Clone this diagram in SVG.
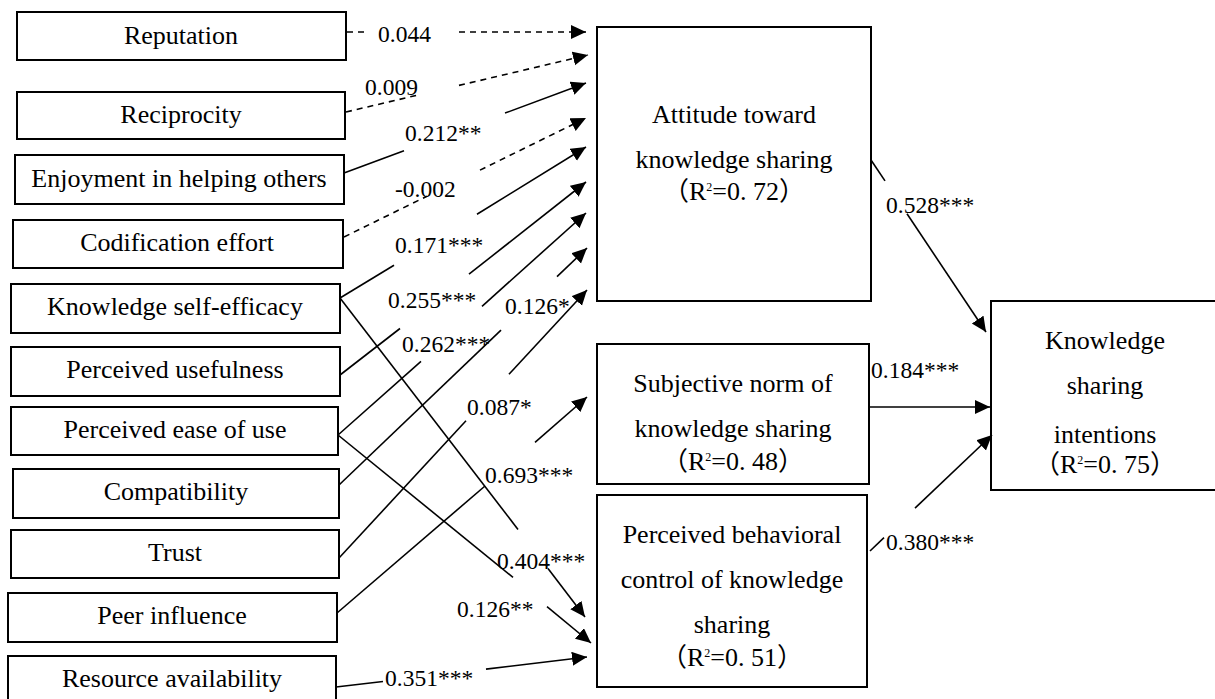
<svg xmlns="http://www.w3.org/2000/svg" width="1215" height="699" viewBox="0 0 1215 699">
<defs>
<style>
.box{fill:#fff;stroke:#000;stroke-width:2}
.t{font-family:"Liberation Serif","Noto Sans CJK SC",serif;font-size:26px;fill:#000;text-anchor:middle}
.lbl{font-family:"Liberation Serif",serif;font-size:23.5px;fill:#000}
.sup{font-size:12px}
.ln{stroke:#000;stroke-width:1.6;fill:none}
.ds{stroke:#000;stroke-width:1.6;fill:none;stroke-dasharray:6 5}
</style>
<marker id="ah" markerUnits="userSpaceOnUse" markerWidth="16" markerHeight="16" refX="15" refY="7" orient="auto">
<path d="M0,0 L15,7 L0,14 Z" fill="#000" stroke="none"/>
</marker>
</defs>
<rect width="1215" height="699" fill="#fff"/>

<g id="reputation"><rect class="box" x="17" y="12" width="329" height="48"/><text class="t" x="181" y="44">Reputation</text></g>
<g id="reciprocity"><rect class="box" x="17" y="92" width="328" height="47"/><text class="t" x="181" y="123">Reciprocity</text></g>
<g id="enjoyment"><rect class="box" x="15" y="155" width="329" height="49"/><text class="t" x="179" y="187">Enjoyment in helping others</text></g>
<g id="codification"><rect class="box" x="13" y="220" width="330" height="48"/><text class="t" x="177" y="251">Codification effort</text></g>
<g id="kse"><rect class="box" x="11" y="284" width="329" height="49"/><text class="t" x="175" y="315">Knowledge self-efficacy</text></g>
<g id="usefulness"><rect class="box" x="11" y="347" width="329" height="49"/><text class="t" x="175" y="378">Perceived usefulness</text></g>
<g id="ease"><rect class="box" x="11" y="407" width="327" height="48"/><text class="t" x="175" y="438">Perceived ease of use</text></g>
<g id="compatibility"><rect class="box" x="13" y="469" width="326" height="49"/><text class="t" x="176" y="500">Compatibility</text></g>
<g id="trust"><rect class="box" x="11" y="530" width="328" height="48"/><text class="t" x="175" y="561">Trust</text></g>
<g id="peer"><rect class="box" x="8" y="593" width="329" height="49"/><text class="t" x="172" y="624">Peer influence</text></g>
<g id="resource"><rect class="box" x="8" y="656" width="328" height="52"/><text class="t" x="172" y="687">Resource availability</text></g>

<g id="attitude"><rect class="box" x="597" y="27" width="274" height="274"/>
<text class="t" x="734" y="123">Attitude toward</text>
<text class="t" x="734" y="168">knowledge sharing</text>
<text class="t" x="734" y="200">（R<tspan class="sup" dy="-9">2</tspan><tspan dy="9">=0. 72）</tspan></text></g>

<g id="subjective"><rect class="box" x="597" y="344" width="272" height="140"/>
<text class="t" x="733" y="392">Subjective norm of</text>
<text class="t" x="733" y="437">knowledge sharing</text>
<text class="t" x="733" y="470">（R<tspan class="sup" dy="-9">2</tspan><tspan dy="9">=0. 48）</tspan></text></g>

<g id="pbc"><rect class="box" x="597" y="495" width="270" height="192"/>
<text class="t" x="732" y="543">Perceived behavioral</text>
<text class="t" x="732" y="588">control of knowledge</text>
<text class="t" x="732" y="633">sharing</text>
<text class="t" x="732" y="666">（R<tspan class="sup" dy="-9">2</tspan><tspan dy="9">=0. 51）</tspan></text></g>

<g id="intentions"><rect class="box" x="991" y="301" width="230" height="189"/>
<text class="t" x="1105" y="349">Knowledge</text>
<text class="t" x="1105" y="394">sharing</text>
<text class="t" x="1105" y="443">intentions</text>
<text class="t" x="1105" y="473">（R<tspan class="sup" dy="-9">2</tspan><tspan dy="9">=0. 75）</tspan></text></g>

<g id="connectors">
<line class="ds" x1="347" y1="32" x2="365" y2="32"/>
<line class="ds" x1="459" y1="32" x2="586" y2="32" marker-end="url(#ah)"/>
<line class="ds" x1="346" y1="112" x2="421" y2="94.3"/>
<line class="ds" x1="459" y1="85.4" x2="588" y2="55" marker-end="url(#ah)"/>
<line class="ln" x1="344" y1="173" x2="404" y2="150.7"/>
<line class="ln" x1="505" y1="113.1" x2="586" y2="83" marker-end="url(#ah)"/>
<line class="ds" x1="344" y1="237" x2="427" y2="196.2"/>
<line class="ds" x1="480" y1="170.1" x2="586" y2="118" marker-end="url(#ah)"/>
<line class="ln" x1="340" y1="298" x2="394" y2="265.3"/>
<line class="ln" x1="477" y1="214.2" x2="586" y2="147" marker-end="url(#ah)"/>
<line class="ln" x1="340" y1="375" x2="400" y2="328.5"/>
<line class="ln" x1="469" y1="274.2" x2="586" y2="182" marker-end="url(#ah)"/>
<line class="ln" x1="338" y1="435" x2="421" y2="361.3"/>
<line class="ln" x1="482" y1="306.3" x2="586" y2="213" marker-end="url(#ah)"/>
<line class="ln" x1="339" y1="485" x2="501" y2="330.2"/>
<line class="ln" x1="557" y1="276.7" x2="587" y2="248" marker-end="url(#ah)"/>
<line class="ln" x1="339" y1="558" x2="466" y2="420.8"/>
<line class="ln" x1="509" y1="374.3" x2="587" y2="290" marker-end="url(#ah)"/>
<line class="ln" x1="337" y1="613" x2="485" y2="486"/>
<line class="ln" x1="535" y1="442.3" x2="587" y2="397" marker-end="url(#ah)"/>
<line class="ln" x1="340" y1="298" x2="518" y2="529.4"/>
<line class="ln" x1="548" y1="568.6" x2="585" y2="617" marker-end="url(#ah)"/>
<line class="ln" x1="338" y1="435" x2="513" y2="577.4"/>
<line class="ln" x1="547" y1="606.7" x2="591" y2="643" marker-end="url(#ah)"/>
<line class="ln" x1="336" y1="687" x2="383" y2="681.5"/>
<line class="ln" x1="486" y1="669.1" x2="587" y2="657" marker-end="url(#ah)"/>
<line class="ln" x1="871" y1="160" x2="885" y2="180.9"/>
<line class="ln" x1="907" y1="213.8" x2="986" y2="332" marker-end="url(#ah)"/>
<line class="ln" x1="869" y1="407" x2="990" y2="407" marker-end="url(#ah)"/>
<line class="ln" x1="870" y1="551" x2="884" y2="537.7"/>
<line class="ln" x1="915" y1="508.2" x2="992" y2="435" marker-end="url(#ah)"/>

<text class="lbl" x="378" y="42">0.044</text>
<text class="lbl" x="365" y="95">0.009</text>
<text class="lbl" x="405" y="141">0.212**</text>
<text class="lbl" x="395" y="197">-0.002</text>
<text class="lbl" x="395" y="253">0.171***</text>
<text class="lbl" x="388" y="308">0.255***</text>
<text class="lbl" x="402" y="352">0.262***</text>
<text class="lbl" x="505" y="314">0.126*</text>
<text class="lbl" x="467" y="415">0.087*</text>
<text class="lbl" x="485" y="483">0.693***</text>
<text class="lbl" x="497" y="569">0.404***</text>
<text class="lbl" x="457" y="617">0.126**</text>
<text class="lbl" x="385" y="686">0.351***</text>
<text class="lbl" x="886" y="213">0.528***</text>
<text class="lbl" x="871" y="378">0.184***</text>
<text class="lbl" x="886" y="550">0.380***</text>
</g>
</svg>
